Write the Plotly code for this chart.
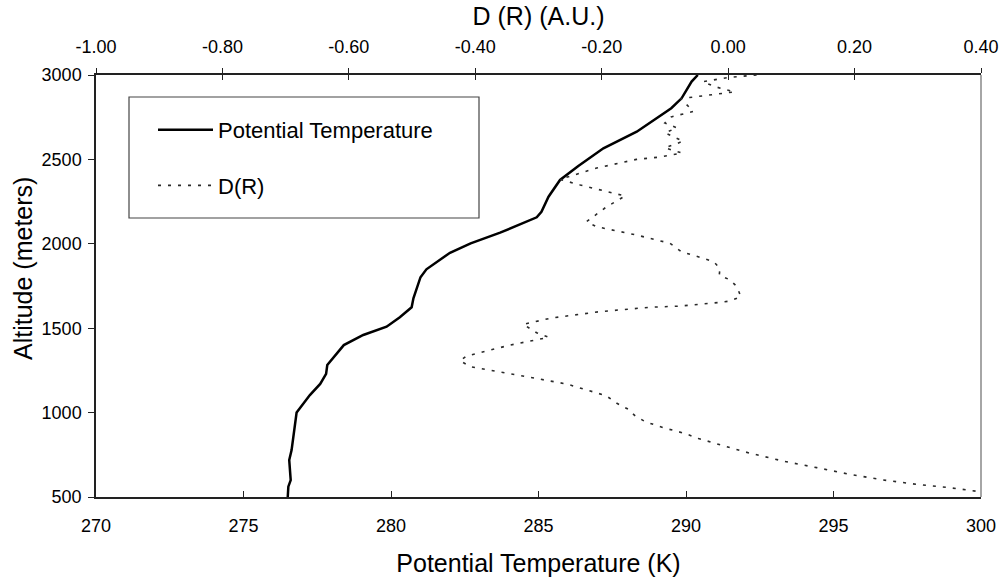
import plotly.graph_objects as go

# Potential temperature profile
pt_alt = [500, 561, 600, 719, 778, 1000, 1104, 1170, 1229, 1282, 1400, 1460, 1509, 1565,
          1624, 1677, 1802, 1849, 1947, 2003, 2066, 2157, 2190, 2279, 2378, 2461, 2566,
          2664, 2803, 2862, 2961, 3000]
pt_temp = [276.5, 276.52, 276.6, 276.55, 276.63, 276.8, 277.25, 277.6, 277.8, 277.84, 278.4,
           279.06, 279.85, 280.3, 280.7, 280.76, 281.0, 281.2, 282.0, 282.7, 283.7, 284.94,
           285.1, 285.34, 285.73, 286.35, 287.2, 288.33, 289.5, 289.85, 290.19, 290.4]

# D(R) profile (top axis)
dr_alt = [3000, 2985, 2960, 2930, 2900, 2880, 2860, 2784, 2752, 2716, 2687, 2657, 2608, 2568,
          2538, 2514, 2500, 2449, 2382, 2348, 2283, 2220, 2131, 2101, 2052, 2003, 1953, 1914,
          1894, 1855, 1815, 1786, 1746, 1687, 1661, 1653, 1643, 1631, 1624, 1598, 1560, 1523,
          1473, 1446, 1400, 1335, 1307, 1272, 1223, 1169, 1100, 1055, 1020, 980, 946, 927, 907,
          893, 873, 847, 828, 808, 790, 759, 713, 674, 634, 601, 575, 555, 531]
dr_val = [0.045, 0.0, -0.04, -0.02, 0.01, -0.03, -0.075, -0.055, -0.09, -0.10, -0.081, -0.10,
          -0.071, -0.10, -0.073, -0.108, -0.145, -0.208, -0.266, -0.234, -0.163, -0.192, -0.224,
          -0.208, -0.145, -0.092, -0.074, -0.039, -0.023, -0.013, -0.014, 0.003, 0.014, 0.02,
          0.003, -0.013, -0.044, -0.076, -0.124, -0.203, -0.28, -0.324, -0.303, -0.284, -0.345,
          -0.414, -0.424, -0.408, -0.334, -0.255, -0.193, -0.176, -0.158, -0.147, -0.131, -0.116,
          -0.1, -0.084, -0.066, -0.047, -0.031, -0.013, 0.005, 0.035, 0.087, 0.14, 0.193, 0.245,
          0.298, 0.351, 0.399]

bottom_ticks = [270, 275, 280, 285, 290, 295, 300]
top_ticks = [-1.0, -0.8, -0.6, -0.4, -0.2, 0.0, 0.2, 0.4]
top_tick_text = ["-1.00", "-0.80", "-0.60", "-0.40", "-0.20", "0.00", "0.20", "0.40"]
alt_ticks = [500, 1000, 1500, 2000, 2500, 3000]

FONT = "Liberation Sans, Arial, sans-serif"
AX = "#222222"

fig = go.Figure()
fig.add_trace(go.Scatter(x=pt_temp, y=pt_alt, mode="lines", name="Potential Temperature",
                         line=dict(color="black", width=2.5), xaxis="x", yaxis="y",
                         legendgroup="a"))
fig.add_trace(go.Scatter(x=dr_val, y=dr_alt, mode="lines", name="D(R)",
                         line=dict(color="#2a2a2a", width=1.6, dash="3px,7px"),
                         xaxis="x2", yaxis="y", legendgroup="b"))
# dummy trace to activate xaxis3 (inner half of the crossing top tick marks)
fig.add_trace(go.Scatter(x=[None], y=[None], xaxis="x3", yaxis="y", showlegend=False,
                         hoverinfo="skip"))

fig.update_layout(
    width=1000, height=577,
    margin=dict(l=96, r=19, t=75, b=80, autoexpand=False),
    paper_bgcolor="white", plot_bgcolor="white",
    font=dict(family=FONT, color="black", size=18),
    showlegend=True,
    legend=dict(x=(153 - 96) / 885, y=(497 - 109) / 422, xanchor="left", yanchor="top",
                bgcolor="rgba(0,0,0,0)", borderwidth=0, font=dict(size=22, family=FONT),
                tracegroupgap=24, itemwidth=55),
    xaxis=dict(range=[270, 300], tickvals=bottom_ticks, ticks="inside", ticklen=6,
               tickcolor=AX, showline=True, linecolor=AX, linewidth=1.5, showgrid=False,
               zeroline=False, tickfont=dict(size=18), ticklabelstandoff=12, automargin=False,
               title=dict(text="Potential Temperature (K)", font=dict(size=25), standoff=22)),
    xaxis2=dict(range=[-1.0, 0.4], tickvals=top_ticks, ticktext=top_tick_text,
                overlaying="x", side="top", ticks="outside", ticklen=5, tickcolor=AX,
                showline=True, linecolor=AX, linewidth=1.5, showgrid=False, zeroline=False,
                tickfont=dict(size=18), ticklabelstandoff=8, automargin=False,
                title=dict(text="D (R) (A.U.)", font=dict(size=25), standoff=4)),
    xaxis3=dict(range=[-1.0, 0.4], tickvals=top_ticks, overlaying="x", side="top",
                ticks="inside", ticklen=5, tickcolor=AX, showticklabels=False,
                showline=False, showgrid=False, zeroline=False, automargin=False),
    yaxis=dict(range=[500, 3000], tickvals=alt_ticks, ticks="outside", ticklen=6,
               tickcolor=AX, showline=True, linecolor=AX, linewidth=1.5, showgrid=False,
               zeroline=False, tickfont=dict(size=18), ticklabelstandoff=3, automargin=False),
    annotations=[
        dict(text="Altitude (meters)", textangle=-90, xref="paper", yref="paper",
             x=(23 - 96) / 885, y=(497 - 269) / 422, xanchor="center", yanchor="middle",
             showarrow=False, font=dict(size=25, family=FONT, color="black")),
    ],
    shapes=[
        dict(type="line", xref="paper", yref="paper", x0=1, x1=1, y0=0, y1=1,
             line=dict(color="#888888", width=1.5)),
        dict(type="rect", xref="paper", yref="paper", x0=(129 - 96) / 885, x1=(479 - 96) / 885,
             y0=(497 - 218) / 422, y1=(497 - 97) / 422, line=dict(color="#444444", width=1.2)),
    ],
)

fig.write_html("out.html")
